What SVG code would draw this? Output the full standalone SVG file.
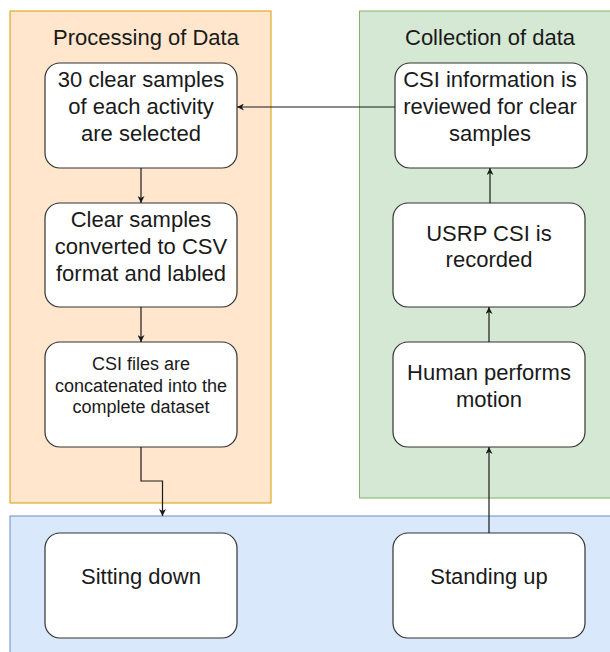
<svg xmlns="http://www.w3.org/2000/svg" width="610" height="652" viewBox="0 0 610 652">
<style>
.node{fill:#ffffff;stroke:#333333;stroke-width:1.2}
.t{font-family:"Liberation Sans",Arial,sans-serif;font-size:22px;fill:#1a1a1a;text-anchor:middle}
.s{font-family:"Liberation Sans",Arial,sans-serif;font-size:18px;fill:#1a1a1a;text-anchor:middle}
.e{fill:none;stroke:#1a1a1a;stroke-width:1.2}
</style>
<defs>
<marker id="arr" viewBox="0 0 10 10" refX="10" refY="5" markerWidth="7" markerHeight="7" orient="auto" markerUnits="userSpaceOnUse">
<path d="M0,0 L10,5 L0,10 L3,5 Z" fill="#1a1a1a"/>
</marker>
</defs>
<g id="processing">
<rect x="10" y="11" width="261" height="492" fill="#ffe6cc" stroke="#d79b00"/>
<text class="t" x="146" y="45">Processing of Data</text>
</g>
<g id="collection">
<rect x="359.5" y="11" width="262" height="487" fill="#d5e8d4" stroke="#82b366"/>
<text class="t" x="490" y="45">Collection of data</text>
</g>
<g id="activities">
<rect x="10" y="516" width="612" height="150" fill="#dae8fc" stroke="#6c8ebf"/>
</g>
<g id="select">
<rect class="node" x="45" y="63" width="192" height="105" rx="15"/>
<text class="t" x="141" y="87">30 clear samples</text>
<text class="t" x="141" y="114">of each activity</text>
<text class="t" x="141" y="141">are selected</text>
</g>
<g id="convert">
<rect class="node" x="45" y="203" width="192" height="104" rx="15"/>
<text class="t" x="141" y="227">Clear samples</text>
<text class="t" x="141" y="254">converted to CSV</text>
<text class="t" x="141" y="281">format and labled</text>
</g>
<g id="concat">
<rect class="node" x="45" y="342" width="192" height="105" rx="15"/>
<text class="s" x="141" y="370">CSI files are</text>
<text class="s" x="141" y="391.5">concatenated into the</text>
<text class="s" x="141" y="413">complete dataset</text>
</g>
<g id="review">
<rect class="node" x="395" y="63" width="192" height="105" rx="15"/>
<text class="t" x="490" y="87">CSI information is</text>
<text class="t" x="490" y="114">reviewed for clear</text>
<text class="t" x="490" y="141">samples</text>
</g>
<g id="record">
<rect class="node" x="393" y="203" width="192" height="104" rx="15"/>
<text class="t" x="489" y="241">USRP CSI is</text>
<text class="t" x="489" y="267">recorded</text>
</g>
<g id="human">
<rect class="node" x="393" y="342" width="192" height="105" rx="15"/>
<text class="t" x="489" y="380">Human performs</text>
<text class="t" x="489" y="407">motion</text>
</g>
<g id="sitting">
<rect class="node" x="45" y="533" width="192" height="105" rx="15"/>
<text class="t" x="141" y="584">Sitting down</text>
</g>
<g id="standing">
<rect class="node" x="393" y="533" width="192" height="105" rx="15"/>
<text class="t" x="489" y="584">Standing up</text>
</g>
<g id="connectors">
<path class="e" d="M395,107 L237,107" marker-end="url(#arr)"/>
<path class="e" d="M141,168 L141,203" marker-end="url(#arr)"/>
<path class="e" d="M141,307 L141,342" marker-end="url(#arr)"/>
<path class="e" d="M141,447 L141,481 L162.5,481 L162.5,516" marker-end="url(#arr)"/>
<path class="e" d="M489,533 L489,447" marker-end="url(#arr)"/>
<path class="e" d="M489,342 L489,307" marker-end="url(#arr)"/>
<path class="e" d="M490,203 L490,168" marker-end="url(#arr)"/>
</g>
</svg>
